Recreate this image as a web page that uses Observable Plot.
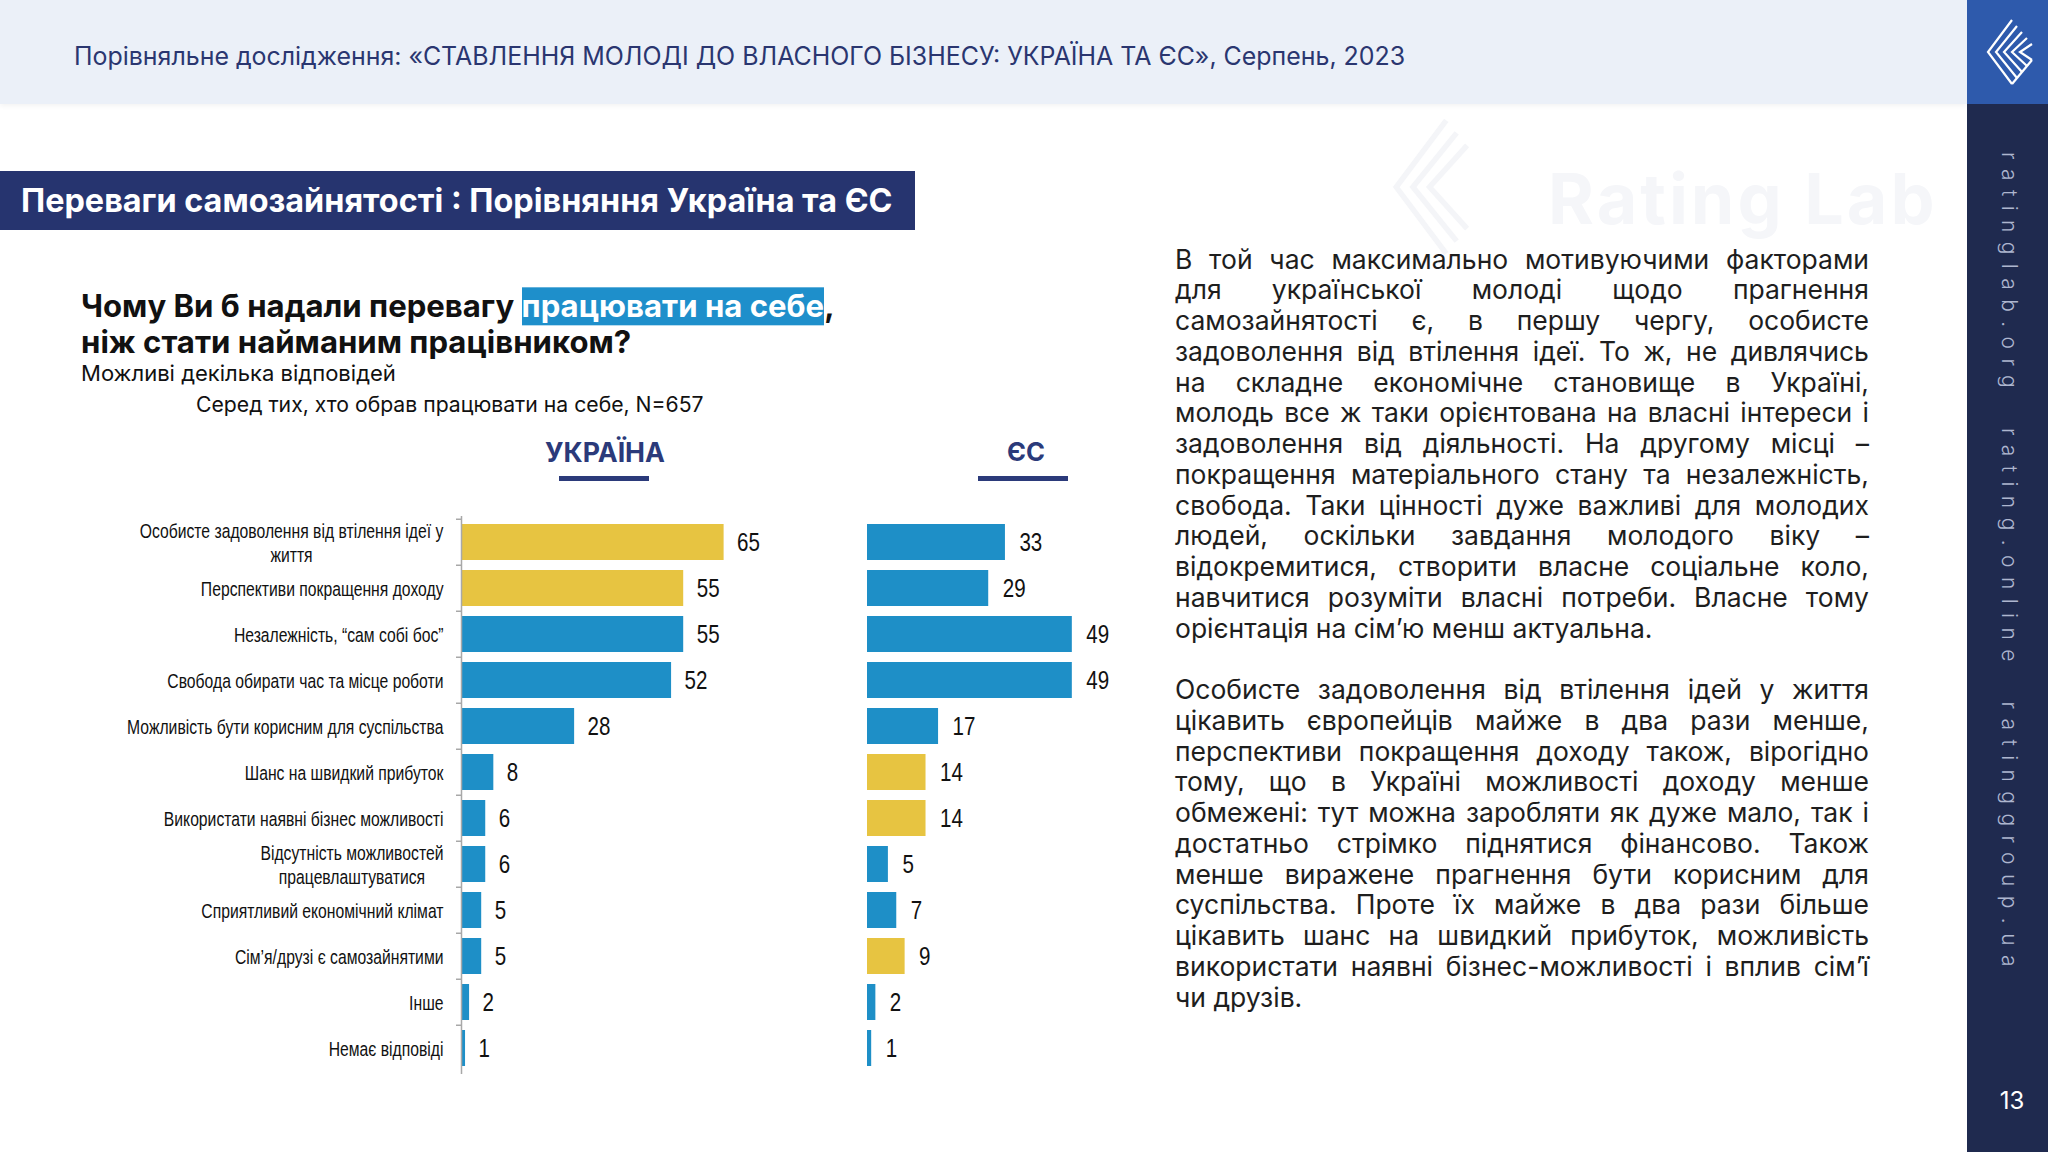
<!DOCTYPE html>
<html><head><meta charset="utf-8">
<script src="https://cdn.jsdelivr.net/npm/d3@7"></script>
<script src="https://cdn.jsdelivr.net/npm/@observablehq/plot@0.6"></script>
<style>
html,body{margin:0;padding:0;}
body{width:2048px;height:1152px;position:relative;overflow:hidden;background:#fff;font-family:Inter,"Noto Sans",sans-serif;color:#111;}
.abs{position:absolute;white-space:nowrap;}
.mid{transform:translateY(-50%);line-height:1.2;}
#topband{left:0;top:0;width:1967px;height:104px;background:#EBF0F8;box-shadow:0 2px 5px rgba(0,0,0,0.05);}
#header{left:74px;top:57px;font-size:22px;color:#2A3670;}
#side{left:1967px;top:0;width:81px;height:1152px;background:#1F2A4F;}
#sidetop{left:1967px;top:0;width:81px;height:104px;background:#2E5AAC;}
#vert{left:1997px;top:152px;writing-mode:vertical-rl;font-size:21px;letter-spacing:7px;color:#AEB6CF;font-weight:300;white-space:pre;}
#pnum{left:1990px;top:1101px;width:44px;text-align:center;color:#fff;font-size:24px;}
#titlebox{left:0;top:171px;width:915px;height:59px;background:#26346F;}
#title{left:21px;top:201px;color:#fff;font-weight:700;font-size:29px;}
#q1{left:81px;top:307px;font-weight:700;font-size:28px;}
#q2{left:81px;top:343px;font-weight:700;font-size:28px;}
.hl{background:#1E8FCB;color:#fff;}
#sub1{left:81px;top:373px;font-size:20px;}
#sub2{left:196px;top:405px;font-size:20px;}
.colh{font-weight:700;font-size:24px;color:#2B3A7A;}
.uline{height:5px;background:#2B3A7A;}
#wm{left:1548px;top:168px;font-size:70px;line-height:62px;height:62px;font-weight:700;color:#F5F6F9;letter-spacing:3px;}
#para{left:1175px;top:243.5px;width:694px;font-size:25px;color:#1e1e1e;}
.ln{display:flex;justify-content:space-between;height:30.75px;line-height:30.75px;white-space:nowrap;}
.ln.last{justify-content:flex-start;}
</style>
</head><body>
<div id="topband" class="abs"></div>
<div id="header" class="abs mid" data-w="1332">Порівняльне дослідження: «СТАВЛЕННЯ МОЛОДІ ДО ВЛАСНОГО БІЗНЕСУ: УКРАЇНА ТА ЄС», Серпень, 2023</div>
<svg class="abs" style="left:1380px;top:112px" width="120" height="150" viewBox="0 0 54 72">
  <g fill="none" stroke="#F4F5F8" stroke-width="2.6">
    <polyline points="30,4 6,36 30,68"/>
    <polyline points="35,10 14,36 35,62"/>
    <polyline points="40,16 22,36 40,56"/>
  </g>
</svg>
<div id="wm" class="abs">Rating Lab</div>
<div id="side" class="abs"></div>
<div id="sidetop" class="abs"></div>
<svg class="abs" style="left:1982px;top:16px" width="54" height="72" viewBox="0 0 54 72">
  <g fill="none" stroke="#fff" stroke-width="2.2">
    <polyline points="30,4 6,36 30,68"/>
    <polyline points="35,10 14,36 35,62"/>
    <polyline points="40,16 22,36 40,56"/>
    <polyline points="45,22 30,36 45,50"/>
    <polyline points="50,28 38,36 50,44"/>
    <line x1="30" y1="68" x2="50" y2="44"/>
  </g>
</svg>
<div id="vert" class="abs" data-h="824">ratinglab.org  rating.online  ratinggroup.ua</div>
<div id="pnum" class="abs mid">13</div>

<div id="titlebox" class="abs"></div>
<div id="title" class="abs mid" data-w="872">Переваги самозайнятості : Порівняння Україна та ЄС</div>
<div id="q1" class="abs mid" data-w="754">Чому Ви б надали перевагу <span class="hl">працювати на себе</span>,</div>
<div id="q2" class="abs mid">ніж стати найманим працівником?</div>
<div id="sub1" class="abs mid" data-w="315">Можливі декілька відповідей</div>
<div id="sub2" class="abs mid" data-w="508">Серед тих, хто обрав працювати на себе, N=657</div>

<div id="uaHead" class="abs mid colh" style="left:545px;top:452px" data-w="120">УКРАЇНА</div>
<div class="abs uline" style="left:559px;top:476px;width:90px"></div>
<div id="euHead" class="abs mid colh" style="left:1007px;top:452px" data-w="38">ЄС</div>
<div class="abs uline" style="left:978px;top:476px;width:90px"></div>

<div id="uaChart" class="abs" style="left:0;top:500px"></div>
<div id="euChart" class="abs" style="left:840px;top:500px"></div>

<div id="para" class="abs"></div>

<script>
// ---- data ----
const categories = [
  "Особисте задоволення від втілення ідеї у\nжиття",
  "Перспективи покращення доходу",
  "Незалежність, “сам собі бос”",
  "Свобода обирати час та місце роботи",
  "Можливість бути корисним для суспільства",
  "Шанс на швидкий прибуток",
  "Використати наявні бізнес можливості",
  "Відсутність можливостей\nпрацевлаштуватися",
  "Сприятливий економічний клімат",
  "Сім’я/друзі є самозайнятими",
  "Інше",
  "Немає відповіді"
];
const uaValues = [65, 55, 55, 52, 28, 8, 6, 6, 5, 5, 2, 1];
const euValues = [33, 29, 49, 49, 17, 14, 14, 5, 7, 9, 2, 1];
const uaTop = [1, 1, 0, 0, 0, 0, 0, 0, 0, 0, 0, 0];
const euTop = [0, 0, 0, 0, 0, 1, 1, 0, 0, 1, 0, 0];

const paragraph1 = [
  "В той час максимально мотивуючими факторами",
  "для української молоді щодо прагнення",
  "самозайнятості є, в першу чергу, особисте",
  "задоволення від втілення ідеї. То ж, не дивлячись",
  "на складне економічне становище в Україні,",
  "молодь все ж таки орієнтована на власні інтереси і",
  "задоволення від діяльності. На другому місці –",
  "покращення матеріального стану та незалежність,",
  "свобода. Таки цінності дуже важливі для молодих",
  "людей, оскільки завдання молодого віку –",
  "відокремитися, створити власне соціальне коло,",
  "навчитися розуміти власні потреби. Власне тому",
  "орієнтація на сім’ю менш актуальна."
];
const paragraph2 = [
  "Особисте задоволення від втілення ідей у життя",
  "цікавить європейців майже в два рази менше,",
  "перспективи покращення доходу також, вірогідно",
  "тому, що в Україні можливості доходу менше",
  "обмежені: тут можна заробляти як дуже мало, так і",
  "достатньо стрімко піднятися фінансово. Також",
  "менше виражене прагнення бути корисним для",
  "суспільства. Проте їх майже в два рази більше",
  "цікавить шанс на швидкий прибуток, можливість",
  "використати наявні бізнес-можливості і вплив сім’ї",
  "чи друзів."
];

// ---- styles ----
const YELLOW = "#E7C441";
const BLUE = "#1E8FC7";
const NARROW = '"Liberation Sans Narrow", "Arial Narrow", "Liberation Sans", Arial, sans-serif';

const uaRows = categories.map((c, i) => ({category: c, value: uaValues[i], group: uaTop[i] ? "top" : "other"}));
const euRows = categories.map((c, i) => ({category: c, value: euValues[i], group: euTop[i] ? "top" : "other"}));

const H = 580, MT = 16, MB = 6;
const step = (H - MT - MB) / categories.length;
const yOpts = {domain: categories, paddingInner: 0.226, paddingOuter: 0.113, axis: null};
const colorOpts = {domain: ["top", "other"], range: [YELLOW, BLUE]};

const ua = Plot.plot({
  width: 865, height: H, marginLeft: 461, marginRight: 0, marginTop: MT, marginBottom: MB,
  x: {domain: [0, 100], axis: null},
  y: yOpts,
  color: colorOpts,
  style: {background: "transparent", fontFamily: NARROW, overflow: "visible"},
  marks: [
    Plot.barX(uaRows, {x: "value", y: "category", fill: "group"}),
    Plot.ruleX([0], {stroke: "#A8A8A8", strokeWidth: 1.5}),
    Plot.axisY({tickSize: 5, tickFormat: () => "", label: null, dy: -step / 2, stroke: "#A8A8A8", strokeWidth: 1.5}),
    Plot.text(uaRows, {x: "value", y: "category", text: d => String(d.value), textAnchor: "start", dx: 13, fontSize: 25.5, fill: "#111"}),
    Plot.text(uaRows, {x: 0, y: "category", text: "category", textAnchor: "end", dx: -18, fontSize: 19.5, lineHeight: 1.2, fill: "#111"})
  ]
});
document.getElementById("uaChart").appendChild(ua);

const eu = Plot.plot({
  width: 445, height: H, marginLeft: 27, marginRight: 0, marginTop: MT, marginBottom: MB,
  x: {domain: [0, 100], axis: null},
  y: yOpts,
  color: colorOpts,
  style: {background: "transparent", fontFamily: NARROW, overflow: "visible"},
  marks: [
    Plot.barX(euRows, {x: "value", y: "category", fill: "group"}),
    Plot.text(euRows, {x: "value", y: "category", text: d => String(d.value), textAnchor: "start", dx: 14, fontSize: 25.5, fill: "#111"})
  ]
});
document.getElementById("euChart").appendChild(eu);

// narrow-font emulation: horizontal condensing so the reference label width is matched
const allTexts = [...ua.querySelectorAll("text"), ...eu.querySelectorAll("text")];
let condense = 1;
const probe = allTexts.find(t => t.textContent === "Перспективи покращення доходу");
if (probe) {
  const w = probe.getBBox().width;
  condense = Math.min(1, 243 / w);
}
// center multi-line category labels within their block
ua.querySelectorAll("text").forEach(t => {
  const spans = t.querySelectorAll("tspan");
  if (spans.length > 1) {
    const w = t.getBBox().width;
    t.setAttribute("text-anchor", "middle");
    spans.forEach(s => s.setAttribute("x", -w / 2));
  }
});
allTexts.forEach(t => {
  const tr = t.getAttribute("transform") || "";
  t.setAttribute("transform", tr + ` scale(${condense},1)`);
});

// paragraphs, justified line by line
const para = document.getElementById("para");
function addParagraph(lines) {
  lines.forEach((line, i) => {
    const div = document.createElement("div");
    div.className = "ln" + (i === lines.length - 1 ? " last" : "");
    line.split(" ").forEach(w => {
      const s = document.createElement("span");
      s.textContent = w;
      div.appendChild(s);
    });
    para.appendChild(div);
  });
}
addParagraph(paragraph1);
const blank = document.createElement("div"); blank.className = "ln"; para.appendChild(blank);
addParagraph(paragraph2);

function fitParagraph() {
  let fs = 27;
  const all = [...paragraph1, ...paragraph2];
  const c = document.createElement("canvas").getContext("2d");
  const fam = getComputedStyle(para).fontFamily;
  for (; fs > 18; fs -= 0.25) {
    c.font = `400 ${fs}px ${fam}`;
    const maxW = Math.max(...all.map(l => c.measureText(l).width * 1.0));
    if (maxW <= 680) break;
  }
  para.style.fontSize = fs + "px";
  para.querySelectorAll(".ln.last span").forEach(s => s.style.marginRight = "0.28em");
}
fitParagraph();

// fit text widths
function fit() {
  document.querySelectorAll("[data-w]").forEach(el => {
    const target = +el.dataset.w;
    const fs = parseFloat(getComputedStyle(el).fontSize);
    const w = el.getBoundingClientRect().width;
    if (w > 0) el.style.fontSize = (fs * target / w) + "px";
  });
  const q2 = document.getElementById("q2");
  q2.style.fontSize = document.getElementById("q1").style.fontSize;
  document.querySelectorAll("[data-h]").forEach(el => {
    const target = +el.dataset.h;
    const h = el.getBoundingClientRect().height;
    const ls = parseFloat(getComputedStyle(el).letterSpacing) || 0;
    const n = el.textContent.length;
    el.style.letterSpacing = (ls + (target - h) / n) + "px";
  });
}
fit();
</script>
</body></html>
